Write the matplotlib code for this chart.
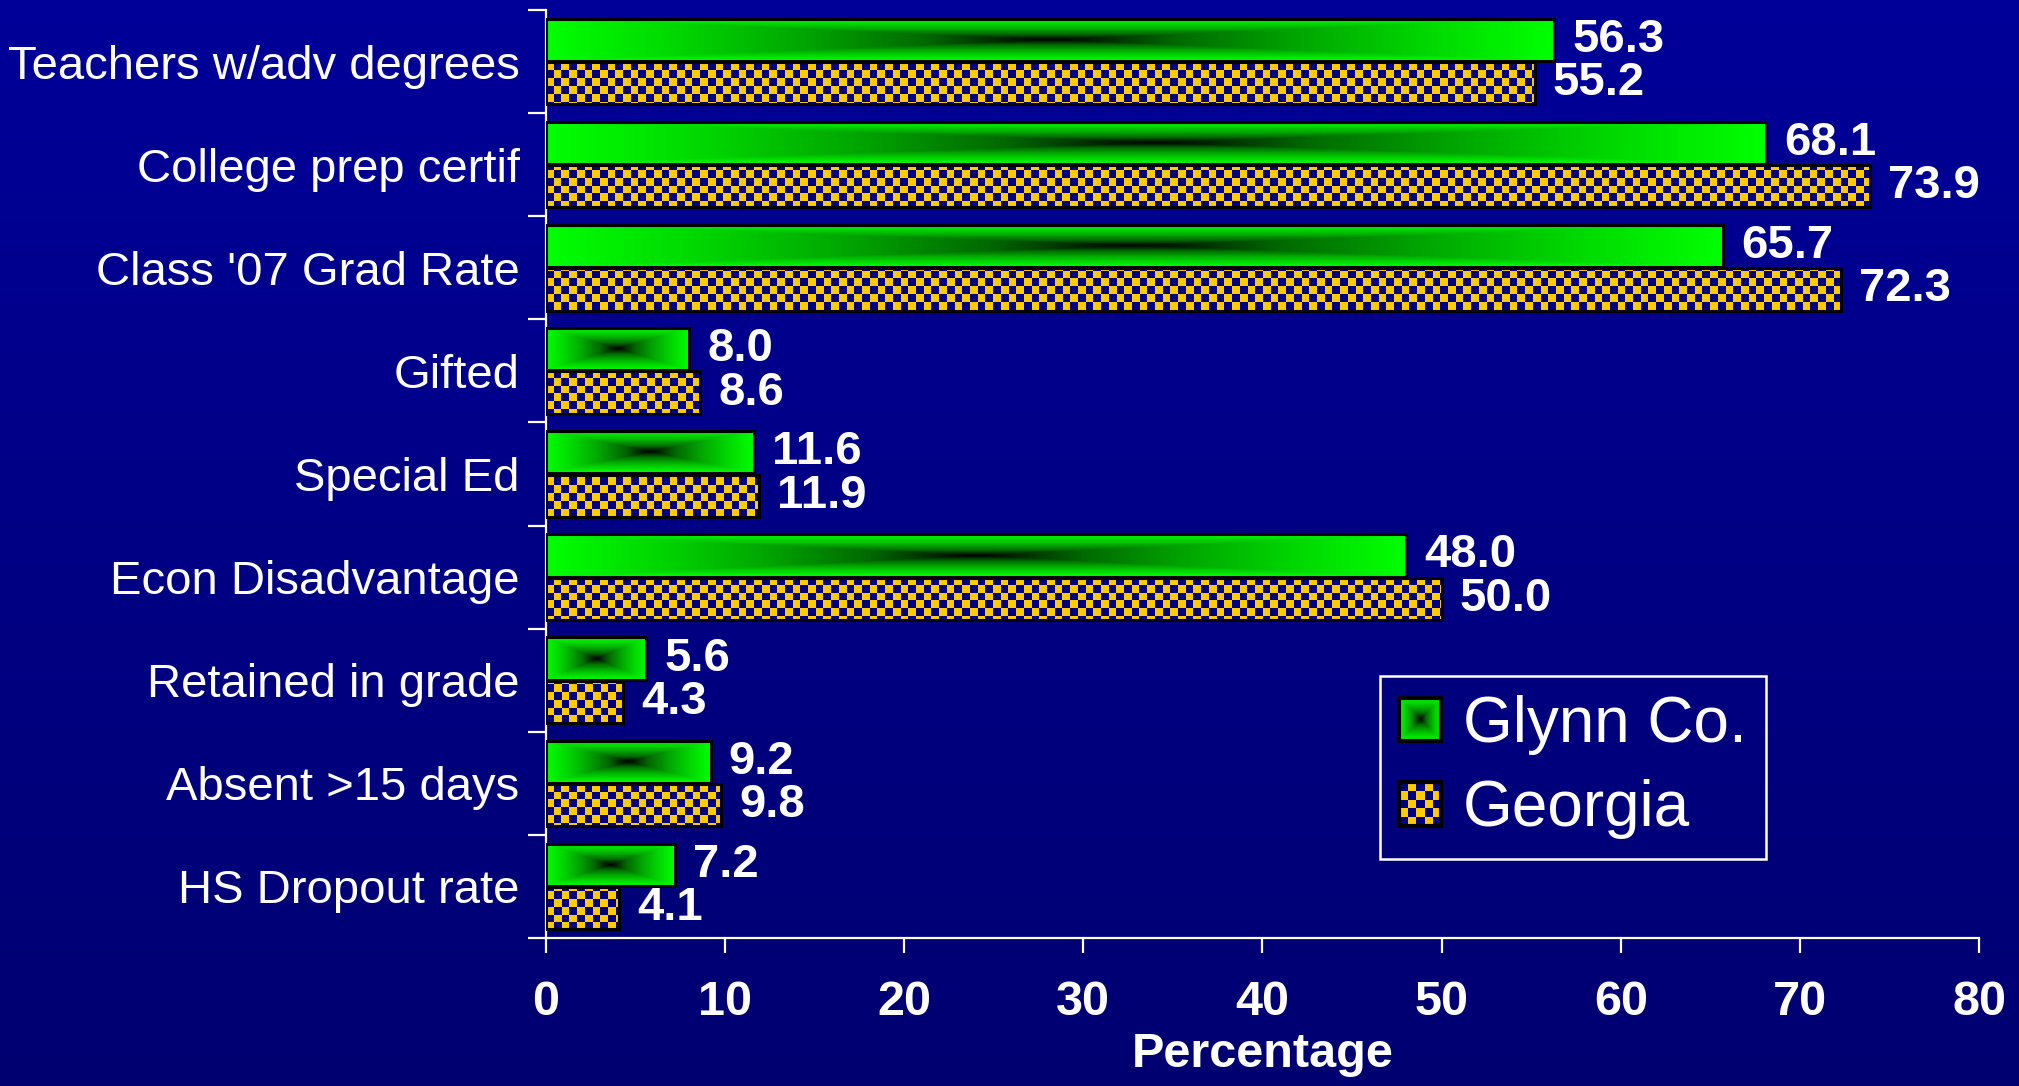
import numpy as np
import matplotlib
matplotlib.use('Agg')
import matplotlib.pyplot as plt
from matplotlib import font_manager
from matplotlib.colors import LinearSegmentedColormap, ListedColormap
from matplotlib.patches import Patch, Rectangle

# data (top to bottom)
categories = ['Teachers w/adv degrees', 'College prep certif', "Class '07 Grad Rate",
              'Gifted', 'Special Ed', 'Econ Disadvantage', 'Retained in grade',
              'Absent >15 days', 'HS Dropout rate']
glynn = [56.3, 68.1, 65.7, 8.0, 11.6, 48.0, 5.6, 9.2, 7.2]
georgia = [55.2, 73.9, 72.3, 8.6, 11.9, 50.0, 4.3, 9.8, 4.1]
series_names = ['Glynn Co.', 'Georgia']
x_ticks = [0, 10, 20, 30, 40, 50, 60, 70, 80]
x_label = 'Percentage'

BG_TOP = '#000099'
BG_BOTTOM = '#000071'
GREEN = '#00FF00'
GOLD = '#FFCC00'
NAVY = '#000080'
CELL_PX = 7.7  # checker square size in pixels


def has_font(name):
    try:
        font_manager.findfont(name, fallback_to_default=False)
        return True
    except ValueError:
        return False


narrow = has_font('Liberation Sans Narrow')
label_family = ['Liberation Sans Narrow', 'Liberation Sans'] if narrow else ['Liberation Sans']
cat_size = 40 if narrow else 34
legend_size = 54 if narrow else 46
num_family = ['Liberation Sans', 'DejaVu Sans']

green_cmap = LinearSegmentedColormap.from_list(
    'glynn', [(0.0, '#000000'), (0.25, '#006A00'), (0.5, '#00A800'),
              (0.75, '#00D800'), (1.0, GREEN)])
check_cmap = ListedColormap([NAVY, GOLD])


def box_gradient(nx=300, ny=60):
    """Rectangular 'from centre' gradient: 0 in the middle, 1 at the edges."""
    u = np.abs(np.linspace(-1, 1, nx))
    v = np.abs(np.linspace(-1, 1, ny))
    return np.maximum(u[None, :], v[:, None])


def checker(nrows, ncols):
    return np.add.outer(np.arange(nrows), np.arange(ncols)) % 2


fig = plt.figure(figsize=(20.19, 10.86), dpi=100)
fig.patch.set_facecolor(BG_BOTTOM)

# background: slight vertical gradient
bg = fig.add_axes([0, 0, 1, 1], zorder=-10)
bg_cmap = LinearSegmentedColormap.from_list('bg', [BG_TOP, BG_BOTTOM])
bg.imshow(np.linspace(0, 1, 256)[:, None], cmap=bg_cmap, aspect='auto',
          extent=[0, 1, 0, 1], origin='upper')
bg.set_axis_off()

ax = fig.add_axes([0.2704, 0.1363, 0.7098, 0.8545])
ax.set_facecolor('none')

n = len(categories)
y = np.arange(n)[::-1]
bar_h = 0.41
off = 0.21

bars_g = ax.barh(y + off, glynn, height=bar_h, facecolor='none',
                 edgecolor='black', linewidth=2.2, zorder=3)
bars_s = ax.barh(y - off, georgia, height=bar_h, facecolor='none',
                 edgecolor='black', linewidth=2.2, zorder=3)

xlim = (0, 80)
ylim = (-0.5, n - 0.5)

# green bars: rectangular gradient clipped to each bar
grad = box_gradient()
for bar in bars_g:
    x0, y0 = bar.get_xy()
    im = ax.imshow(grad, cmap=green_cmap, vmin=0, vmax=1, aspect='auto',
                   extent=[x0, x0 + bar.get_width(), y0, y0 + bar.get_height()],
                   interpolation='bilinear', origin='lower', zorder=2)
    im.set_clip_path(bar)

# georgia bars: gold / navy checkerboard clipped to each bar
_, _, aw, ah = ax.get_position().bounds
ax_w_px = aw * fig.get_figwidth() * fig.dpi
ax_h_px = ah * fig.get_figheight() * fig.dpi
board = checker(int(round(ax_h_px / CELL_PX)), int(round(ax_w_px / CELL_PX)))
for bar in bars_s:
    im = ax.imshow(board, cmap=check_cmap, vmin=0, vmax=1, aspect='auto',
                   extent=[xlim[0], xlim[1], ylim[0], ylim[1]],
                   interpolation='nearest', origin='lower', zorder=2)
    im.set_clip_path(bar)

ax.set_xlim(*xlim)
ax.set_ylim(*ylim)

# value labels
for cont, vals in [(bars_g, glynn), (bars_s, georgia)]:
    ax.bar_label(cont, labels=['{:.1f}'.format(v) for v in vals], padding=13,
                 fontsize=34, fontweight='bold', color='white', family=num_family)

# axes styling
for side in ['top', 'right']:
    ax.spines[side].set_visible(False)
for side in ['left', 'bottom']:
    ax.spines[side].set_color('white')
    ax.spines[side].set_linewidth(1.6)

ax.set_yticks(y)
ax.set_yticklabels(categories, fontsize=cat_size, family=label_family, color='white')
ax.set_yticks(np.arange(-0.5, n), minor=True)
ax.tick_params(axis='y', which='major', length=0, pad=19)
ax.tick_params(axis='y', which='minor', length=13, width=1.6, color='white')

ax.set_xticks(x_ticks)
ax.set_xticklabels([str(t) for t in x_ticks], fontsize=35, fontweight='bold',
                   family=num_family, color='white')
ax.tick_params(axis='x', length=11, width=1.6, color='white', pad=19)
ax.set_xlabel(x_label, fontsize=35, fontweight='bold', family=num_family,
              color='white', labelpad=5)

# legend
handles = [Patch(facecolor=GREEN, edgecolor='black'),
           Patch(facecolor=GOLD, edgecolor='black')]
leg = ax.legend(handles, series_names, loc='upper left',
                bbox_to_anchor=(1380 / 2019, 1 - 676 / 1086),
                bbox_transform=fig.transFigure, frameon=True, fancybox=False,
                facecolor='none', edgecolor='white', framealpha=1,
                prop={'family': label_family, 'size': legend_size},
                labelcolor='white', handlelength=0.66, handleheight=0.66,
                handletextpad=0.34, borderpad=0.3, labelspacing=0.38,
                borderaxespad=0)
leg.get_frame().set_linewidth(1.8)

# paint the legend swatches with the same fills as the bars
fig.canvas.draw()
for patch, kind in zip(leg.get_patches(), ['grad', 'check']):
    bb = patch.get_window_extent().transformed(fig.transFigure.inverted())
    hax = fig.add_axes([bb.x0, bb.y0, bb.width, bb.height])
    if kind == 'grad':
        hax.imshow(box_gradient(60, 60), cmap=green_cmap, vmin=0, vmax=1,
                   aspect='auto', extent=[0, 1, 0, 1], interpolation='bilinear')
    else:
        k = max(int(round(bb.width * fig.get_figwidth() * fig.dpi / CELL_PX)), 2)
        hax.imshow(checker(k, k), cmap=check_cmap, vmin=0, vmax=1,
                   aspect='auto', extent=[0, 1, 0, 1], interpolation='nearest')
    hax.add_patch(Rectangle((0, 0), 1, 1, transform=hax.transAxes, fill=False,
                            edgecolor='black', linewidth=3, clip_on=False))
    hax.set_axis_off()

fig.savefig('out.png', dpi=100, facecolor=fig.get_facecolor())
